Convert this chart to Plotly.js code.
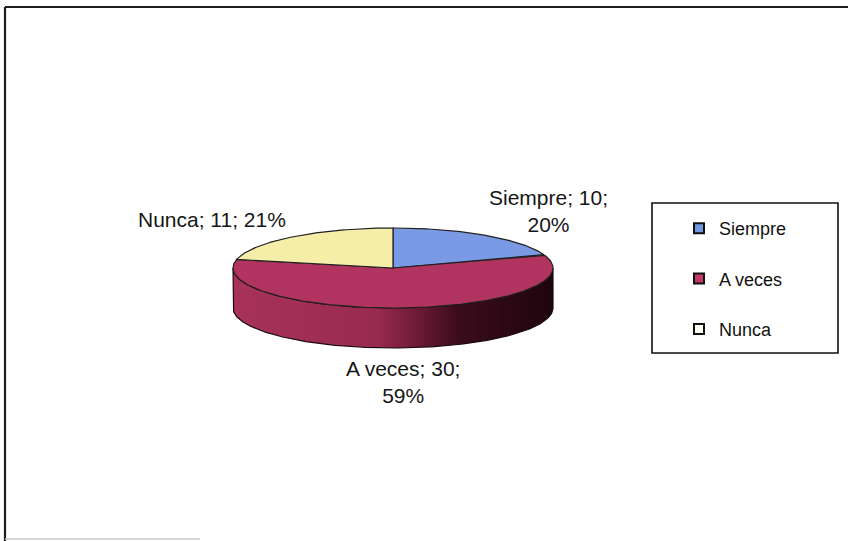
<!DOCTYPE html>
<html><head><meta charset="utf-8">
<script src="https://cdn.plot.ly/plotly-3.0.1.min.js"></script>
<style>html,body{margin:0;padding:0;background:#fff}#chart{width:848px;height:541px}</style>
</head><body><div id="chart"></div>
<script>
// ---- data ----
const categories = ['Siempre', 'A veces', 'Nunca'];
const values = [10, 30, 11];
const percentLabels = [20, 59, 21];

// ---- styles ----
const topColors = ['#7b9ae6', '#b0345f', '#f4eea8'];
const legendColors = ['#6f98e0', '#c23a6c', '#fffff4'];
const sideScale = [[0,'#a8325a'],[0.45,'#982a50'],[0.58,'#6c1a34'],[0.7,'#3c0c1c'],[1,'#1e050c']];
const labelBreak = [true, true, false];
const labelPos = [[548, 211], [403, 382], [212, 219]];

// ---- geometry of the tilted pie (pixel-like axis units) ----
const W = 848, H = 541;
const cx = 393, cy = 268, rx = 160, ry = 40, depth = 40;

function pt(deg, dy) {
  const r = deg * Math.PI / 180;
  return [cx + rx * Math.sin(r), cy - ry * Math.cos(r) + (dy || 0)];
}
function arc(a0, a1, dy) {
  const xs = [], ys = [];
  const n = Math.max(2, Math.ceil(Math.abs(a1 - a0)));
  for (let i = 0; i <= n; i++) {
    const p = pt(a0 + (a1 - a0) * i / n, dy);
    xs.push(p[0]); ys.push(p[1]);
  }
  return [xs, ys];
}

const total = values.reduce((a, b) => a + b, 0);
let cum = 0;
const starts = [], ends = [];
values.forEach(v => { starts.push(cum / total * 360); cum += v; ends.push(cum / total * 360); });

const traces = [];
// visible sides (front half: 90..270 deg clockwise from top)
values.forEach((v, i) => {
  const a0 = Math.max(starts[i], 90), a1 = Math.min(ends[i], 270);
  if (a1 <= a0) return;
  const [tx, ty] = arc(a0, a1, 0);
  const [bx, by] = arc(a1, a0, depth);
  traces.push({
    type: 'scatter', mode: 'lines',
    x: tx.concat(bx, [tx[0]]), y: ty.concat(by, [ty[0]]),
    fill: 'toself',
    fillgradient: { type: 'horizontal', colorscale: sideScale },
    line: { color: '#1a0a10', width: 1.2 },
    hoverinfo: 'skip', showlegend: false
  });
});
// top faces
values.forEach((v, i) => {
  const [ax, ay] = arc(starts[i], ends[i], 0);
  traces.push({
    type: 'scatter', mode: 'lines',
    x: [cx].concat(ax, [cx]), y: [cy].concat(ay, [cy]),
    fill: 'toself', fillcolor: topColors[i],
    line: { color: '#202020', width: 1.2 },
    name: categories[i], hoverinfo: 'name', showlegend: false
  });
});
// legend entries
categories.forEach((c, i) => traces.push({
  type: 'scatter', mode: 'markers', x: [null], y: [null],
  name: c, legendgroup: 'g' + i,
  marker: { symbol: 'square', size: 10, color: legendColors[i], line: { color: '#111', width: 2 } },
  showlegend: true
}));

const annotations = categories.map((c, i) => ({
  x: labelPos[i][0], y: labelPos[i][1], xref: 'x', yref: 'y',
  text: c + '; ' + values[i] + ';' + (labelBreak[i] ? '<br>' : ' ') + percentLabels[i] + '%',
  showarrow: false, align: 'center',
  font: { family: 'Liberation Sans, Arial, sans-serif', size: 21, color: '#161616' }
}));

const layout = {
  width: W, height: H,
  margin: { l: 0, r: 0, t: 0, b: 0 },
  paper_bgcolor: '#ffffff', plot_bgcolor: '#ffffff',
  xaxis: { range: [0, W], visible: false, fixedrange: true },
  yaxis: { range: [H, 0], visible: false, fixedrange: true },
  showlegend: true,
  legend: {
    x: 679 / W, y: 1 - 210 / H, xanchor: 'left', yanchor: 'top',
    bgcolor: 'rgba(0,0,0,0)', borderwidth: 0,
    traceorder: 'grouped', tracegroupgap: 24,
    font: { family: 'Liberation Sans, Arial, sans-serif', size: 18, color: '#111' }
  },
  font: { family: 'Liberation Sans, Arial, sans-serif' },
  annotations: annotations,
  shapes: [
    { type: 'line', xref: 'x', yref: 'y', x0: 5, y0: 7, x1: 848, y1: 7, line: { color: '#1e1e1e', width: 2.2 } },
    { type: 'line', xref: 'x', yref: 'y', x0: 5, y0: 7, x1: 5, y1: 541, line: { color: '#1e1e1e', width: 2.2 } },
    { type: 'line', xref: 'x', yref: 'y', x0: 5, y0: 539, x1: 200, y1: 539, line: { color: '#c8c8c8', width: 1.5 } },
    { type: 'rect', xref: 'x', yref: 'y', x0: 652, y0: 203, x1: 838, y1: 353, line: { color: '#111', width: 1.6 } }
  ]
};

Plotly.newPlot('chart', traces, layout, { displayModeBar: false, staticPlot: true });
</script>
</body></html>
